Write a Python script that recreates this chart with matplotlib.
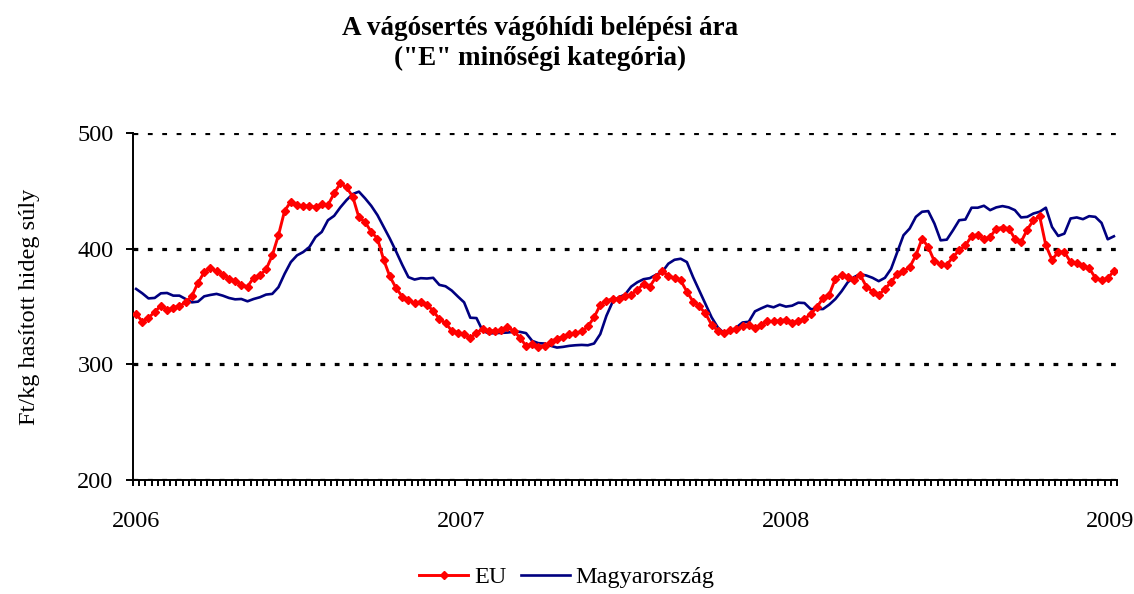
import matplotlib.pyplot as plt
import numpy as np

plt.rcParams['font.family'] = ['Liberation Serif', 'DejaVu Serif']

# weekly prices, Ft/kg (2006 week 1 .. 2009 week 2)
eu_prices = [
    343.5, 337, 340, 345.5, 350.5, 347, 349, 350.5, 353.6, 359,
    370.4, 379.7, 383, 380.6, 377.4, 374, 372, 368.7, 367.2, 375,
    377, 382, 394.2, 411.6, 432.8, 440.6, 437.7, 437, 437, 435.7,
    438.3, 437.7, 447.8, 456.5, 453, 445, 427, 423, 414.5, 408.7,
    390.4, 376, 366, 358.6, 356, 352.8, 354.2, 351.3, 346.4, 339,
    335.7, 329, 327.5, 326, 322.6, 327.5, 330.4, 329, 329, 329.6,
    332, 329, 323.2, 316, 317.4, 315.4, 316, 319.4, 322.3, 323.8,
    326, 327, 328.4, 332.8, 340.6, 351.3, 355, 356.5, 356.5, 359,
    360.3, 364.3, 369.6, 367.2, 375.4, 380.3, 376.8, 374.5, 372.5, 362.9,
    354.2, 350.1, 344, 334.2, 329, 326.7, 329.6, 330.4, 332.8, 334.2,
    331.3, 334, 337.1, 337.1, 337.7, 338.6, 335.7, 337.7, 339.1, 343.5,
    349.3, 357.4, 360.3, 374, 377.4, 375.4, 373, 377.4, 367.2, 362.9,
    360, 365.2, 371, 378.3, 380.6, 384, 394.2, 408.7, 401.4, 389,
    386.4, 386, 392.8, 398.6, 402.9, 410.7, 412.2, 408.1, 410.1, 417.4,
    418.3, 417.4, 408.7, 405.8, 416.5, 424.6, 428.1, 402.9, 390.4, 397.1,
    397.1, 388.4, 387.5, 384.9, 383.2, 374.8, 372.5, 374.5, 380.6,
]

hu_prices = [
    365.2, 361.4, 357, 357.4, 361.4, 361.7, 359.4, 359.4, 356.5, 353.6,
    354.2, 358.8, 360, 360.9, 359.4, 357.4, 356.2, 356.5, 354.5, 356.5,
    358, 360.3, 360.9, 366.7, 378.3, 388.4, 394.2, 397.1, 401.4, 410.1,
    414.5, 424.6, 428.4, 435.7, 442, 447.2, 449.3, 443.5, 437, 429,
    418.8, 408.7, 397.7, 386.1, 375.4, 373.3, 374.5, 374.2, 374.8, 368.7,
    367.5, 363.8, 358.6, 353.6, 340.3, 340, 329, 326.7, 327, 327.2,
    327.5, 328.1, 328.1, 327, 320.3, 318.3, 318, 316, 314.5, 315.1,
    316, 316.5, 316.8, 316.5, 318, 326.1, 342, 354, 358, 360.3,
    367.2, 371, 373.6, 374.5, 377.4, 379.7, 387, 390.4, 391.3, 388.4,
    375.4, 363.8, 352.2, 340.6, 331.9, 327, 328.4, 331.9, 336.2, 336.8,
    345.8, 348.4, 350.7, 349.3, 351.6, 349.9, 350.7, 353.3, 353, 347.8,
    347.8, 347.8, 351.6, 356.5, 363.2, 371, 375.4, 378, 376.8, 374.8,
    371.9, 374.8, 382.6, 397.1, 411.6, 417.4, 427.5, 431.9, 432.5, 421.7,
    407.2, 407.8, 415.9, 424.6, 425.2, 435.4, 435.4, 437.1, 433.3, 435.7,
    436.8, 435.7, 433.3, 427, 427.5, 430.4, 431.9, 435.4, 418.8, 411,
    413, 426.1, 427, 425.5, 428.1, 427.5, 422.3, 408.1, 410.7,
]

year_labels = ["2006", "2007", "2008", "2009"]
year_pos = [0, 52.5, 105, 157.3]

weeks = np.arange(len(eu_prices))

fig = plt.figure(figsize=(11.34, 5.94), dpi=100)
ax = fig.add_axes([0.1173, 0.1919, 0.8677, 0.5842])

ax.plot(weeks, eu_prices, color="#FF0000", linewidth=2.1, marker="D",
        markersize=4.3, label="EU", zorder=3)
ax.plot(weeks, hu_prices, color="#000080", linewidth=1.9,
        label="Magyarország", zorder=2)

ax.set_xlim(-0.5, len(weeks) - 0.5)
ax.set_ylim(200, 500)
ax.set_yticks([200, 300, 400, 500])
ax.grid(axis="y", color="black", linestyle=(0, (1.5, 3.0)), linewidth=2.3)

ax.set_xticks(year_pos)
ax.set_xticklabels(year_labels)
ax.set_xticks(np.arange(-0.5, len(weeks)), minor=True)
ax.tick_params(axis="x", which="major", length=0, pad=22, labelsize=17.5)
ax.tick_params(axis="x", which="minor", length=4, width=1.4, direction="out")
ax.tick_params(axis="y", length=5, width=1.4, labelsize=17.5, pad=9)

for side in ["top", "right"]:
    ax.spines[side].set_visible(False)
for side in ["left", "bottom"]:
    ax.spines[side].set_linewidth(1.4)

ax.set_ylabel("Ft/kg hasított hideg súly", fontsize=17.5, labelpad=27)

fig.text(0.476, 1 - 16 / 594,
         "A vágósertés vágóhídi belépési ára\n(\"E\" minőségi kategória)",
         ha="center", va="top", fontsize=19.5, fontweight="bold",
         linespacing=1.25)

fig.legend(loc="center", bbox_to_anchor=(0.5, 1 - 577 / 594), ncol=2,
           frameon=False, fontsize=17.5, handlelength=2.0, handletextpad=0.25,
           columnspacing=0.6)

plt.savefig("out.png", dpi=100)
plt.close()
